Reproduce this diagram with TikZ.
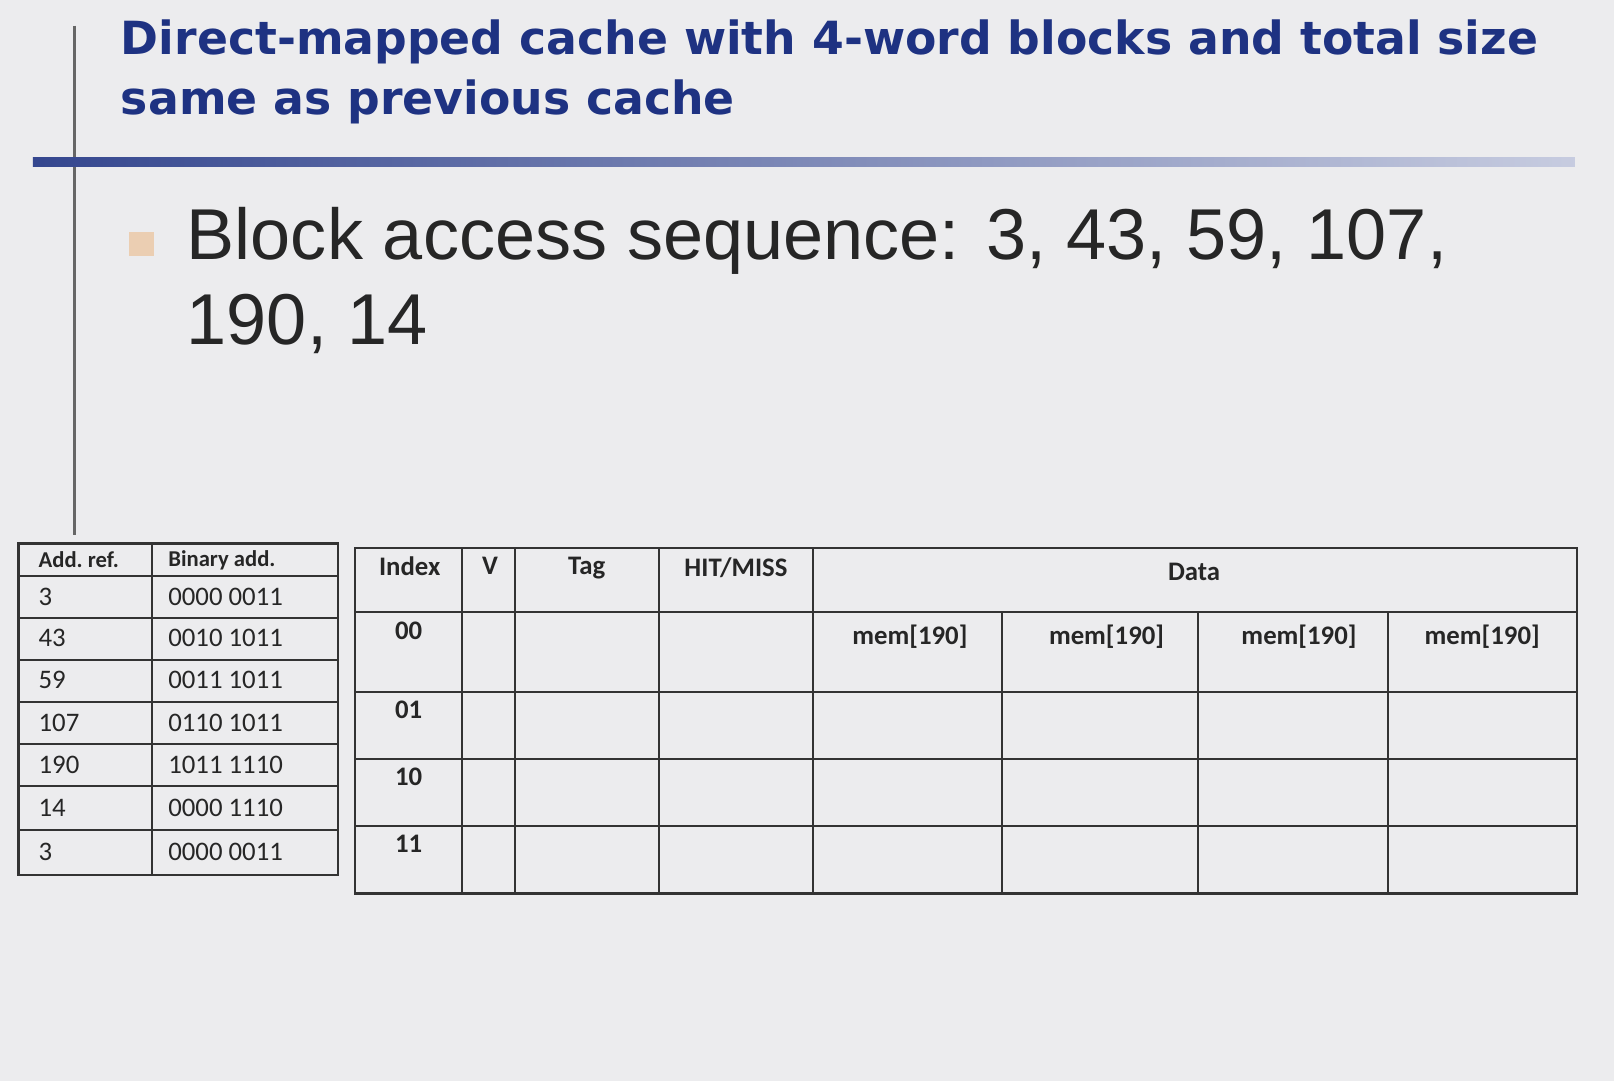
\documentclass[tikz,border=0pt]{standalone}
\usepackage{fontspec}
\setmainfont{Liberation Sans}
\newfontfamily\titlefont{DejaVu Sans}
\newfontfamily\tabfont{Carlito}
\definecolor{ttl}{RGB}{30,50,130}
\definecolor{bg}{RGB}{236,236,238}
\begin{document}
\begin{tikzpicture}[x=1pt,y=-1pt,
  cell/.style={font=\tabfont\fontsize{26}{30}\selectfont,anchor=west,text=black!85},
  hcell/.style={font=\tabfont\bfseries\fontsize{26}{30}\selectfont,text=black!85},
  grid/.style={line width=2pt,black!80}]
\fill[bg] (0,0) rectangle (1568,1050);
\useasboundingbox (0,0) rectangle (1568,1050);
\draw[line width=3pt,black!60] (72,25) -- (72,520);
\shade[left color=ttl!90,right color=ttl!25] (32,153) rectangle (1530,162);
\node[anchor=north west,align=left,text=ttl,font=\titlefont\bfseries\fontsize{44.4}{58}\selectfont] (title) at (114,16) {Direct-mapped cache with 4-word blocks and total size\\same as previous cache};
\fill[orange!20!bg!90!brown] (125,225) rectangle (150,249) node[coordinate] (bul) {};
\node[anchor=north west,align=left,text=black!85,font=\fontsize{70}{82}\selectfont] (seq) at (178,198) {Block access sequence: 3, 43, 59, 107,\\190, 14};
% left table
\draw[grid] (18,528) rectangle (328,850);
\foreach \y in {560,600,641,682,723,764,806} \draw[grid] (18,\y) -- (328,\y);
\draw[grid] (148,528) -- (148,850);
\node[font=\tabfont\bfseries\fontsize{22}{26}\selectfont,anchor=west,text=black!85] (ar) at (34,544) {Add.\ ref.};
\node[font=\tabfont\bfseries\fontsize{22}{26}\selectfont,anchor=west,text=black!85] (ba) at (160,544) {Binary add.};
\foreach \a/\b/\y [count=\i] in {3/0000 0011/580,43/0010 1011/620,59/0011 1011/661,107/0110 1011/702,190/1011 1110/743,14/0000 1110/785,3/0000 0011/828}{
  \node[cell] (a\i) at (34,\y) {\a};
  \node[cell] (b\i) at (160,\y) {\b};}
% right table
\draw[grid] (345,532) rectangle (1532,868);
\foreach \y in {595,672,737,802} \draw[grid] (345,\y) -- (1532,\y);
\foreach \x in {449,500,640,790} \draw[grid] (\x,532) -- (\x,868);
\foreach \x in {973,1164,1348} \draw[grid] (\x,595) -- (\x,868);
\node[hcell] (hi) at (398,550) {Index};
\node[hcell] (hv) at (476,550) {V};
\node[hcell] (ht) at (570,552) {Tag};
\node[hcell] (hh) at (715,552) {HIT/MISS};
\node[hcell] (hd) at (1160,556) {Data};
\foreach \t/\y [count=\i] in {00/613,01/690,10/755,11/820} \node[hcell] (r\i) at (397,\y) {\t};
\foreach \x [count=\i] in {884,1075,1262,1440} \node[hcell] (m\i) at (\x,619) {mem[190]};
\end{tikzpicture}
\end{document}
